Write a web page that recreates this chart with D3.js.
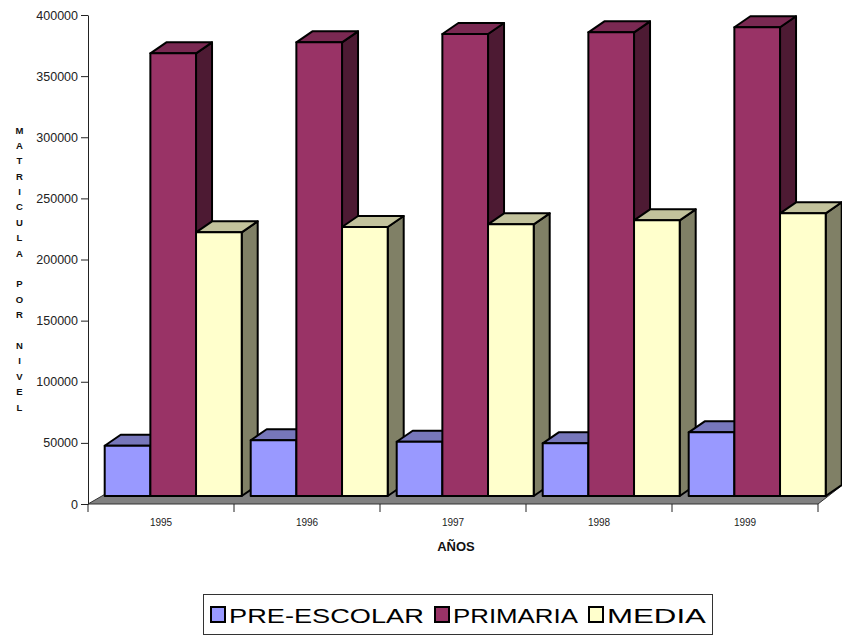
<!DOCTYPE html>
<html>
<head>
<meta charset="utf-8">
<script src="https://cdn.jsdelivr.net/npm/d3@7"></script>
<style>
  html, body { margin: 0; padding: 0; background: #fff; }
  svg { display: block; font-family: "Liberation Sans", Arial, sans-serif; }
</style>
</head>
<body>
<svg id="chart" width="842" height="637"></svg>
<script>
// ---- data ----
const years = ["1995", "1996", "1997", "1998", "1999"];
const seriesNames = ["PRE-ESCOLAR", "PRIMARIA", "MEDIA"];
const preEscolar = [41100, 45600, 44400, 43100, 52100];
const primaria   = [362100, 371100, 377900, 379300, 383400];
const media      = [215700, 220000, 222200, 225500, 231200];
const yTicks = [0, 50000, 100000, 150000, 200000, 250000, 300000, 350000, 400000];
const yTitle = "MATRICULA POR NIVEL";
const xTitle = "AÑOS";

(function () {
// ---- styles ----
const colors = {
  "PRE-ESCOLAR": { front: "#9999FF", top: "#7777BB", side: "#5C5C99" },
  "PRIMARIA":    { front: "#993366", top: "#7A2952", side: "#4D1A33" },
  "MEDIA":       { front: "#FFFFCC", top: "#C2C29C", side: "#808066" }
};
const seriesValues = [preEscolar, primaria, media];

const svg = d3.select("#chart");
const pLeft = 88, pRight = 818, pTop = 15, pBottom = 504;

const x = d3.scaleBand().domain(years).range([pLeft, pRight]).padding(0);
const y = d3.scaleLinear().domain([0, 400000]).range([pBottom, pTop]);
const s = d3.scaleBand().domain(seriesNames).range([0, 137]).padding(0);

// front-plane offset of the bars and bar depth (oblique projection)
const offX = 16.7, offY = -8;
const dX = 16, dY = -11;

// ---- floor ----
svg.append("polygon")
  .attr("points", [
    [pLeft, pBottom], [pRight, pBottom],
    [pRight + 31, pBottom - 24], [pLeft + 33, pBottom - 19]
  ].map(p => p.join(",")).join(" "))
  .attr("fill", "#808080")
  .attr("stroke", "#333")
  .attr("stroke-width", 1);

// ---- bars ----
const bars = [];
years.forEach((yr, i) => {
  seriesNames.forEach((name, j) => {
    bars.push({ year: yr, name, value: seriesValues[j][i] });
  });
});

const g = svg.append("g");
bars.forEach(d => {
  const x0 = x(d.year) + offX + s(d.name);
  const x1 = x0 + s.bandwidth();
  const yb = y(0) + offY;
  const yt = y(d.value) + offY;
  const c = colors[d.name];
  const bg = g.append("g")
    .attr("stroke", "#000").attr("stroke-width", 2).attr("stroke-linejoin", "round");
  bg.append("polygon")
    .attr("points", [[x1, yb], [x1 + dX, yb + dY], [x1 + dX, yt + dY], [x1, yt]].map(p => p.join(",")).join(" "))
    .attr("fill", c.side);
  bg.append("polygon")
    .attr("points", [[x0, yt], [x0 + dX, yt + dY], [x1 + dX, yt + dY], [x1, yt]].map(p => p.join(",")).join(" "))
    .attr("fill", c.top);
  bg.append("rect")
    .attr("x", x0).attr("y", yt)
    .attr("width", x1 - x0).attr("height", yb - yt)
    .attr("fill", c.front);
});

// ---- y axis ----
const yAxis = svg.append("g")
  .attr("transform", `translate(${pLeft},0)`)
  .call(d3.axisLeft(y).tickValues(yTicks).tickFormat(d3.format("d")).tickSize(7).tickPadding(3).tickSizeOuter(0));
yAxis.select(".domain").attr("stroke", "#222");
yAxis.selectAll(".tick line").attr("stroke", "#222");
yAxis.selectAll(".tick text")
  .attr("font-family", "Liberation Sans, Arial, sans-serif")
  .attr("font-size", 12.5).attr("fill", "#222");

// ---- x axis (ticks at category boundaries) ----
const bounds = years.map(yr => x(yr)).concat([pRight]);
svg.append("g").selectAll("line").data(bounds).join("line")
  .attr("x1", d => d).attr("x2", d => d)
  .attr("y1", pBottom).attr("y2", pBottom + 8)
  .attr("stroke", "#222").attr("stroke-width", 1);
svg.append("g").selectAll("text").data(years).join("text")
  .attr("x", d => x(d) + x.bandwidth() / 2)
  .attr("y", 526)
  .attr("text-anchor", "middle")
  .attr("font-size", 10).attr("fill", "#222")
  .text(d => d);

svg.append("text")
  .attr("x", (pLeft + pRight) / 2 + 3)
  .attr("y", 551)
  .attr("text-anchor", "middle")
  .attr("font-size", 13).attr("font-weight", "bold").attr("fill", "#111")
  .text(xTitle);

// ---- y title, stacked letters ----
const yTitleG = svg.append("g");
yTitle.split("").forEach((ch, i) => {
  yTitleG.append("text")
    .attr("x", 19.5)
    .attr("y", 133.5 + i * 15.39)
    .attr("text-anchor", "middle")
    .attr("font-size", 9.5).attr("font-weight", "bold").attr("fill", "#111")
    .text(ch);
});

// ---- legend ----
const legend = svg.append("g");
legend.append("rect")
  .attr("x", 203.5).attr("y", 594.5).attr("width", 509).attr("height", 40)
  .attr("fill", "#fff").attr("stroke", "#333").attr("stroke-width", 1);
const legendItems = [
  { name: "PRE-ESCOLAR", sx: 211, tx: 229, len: 195 },
  { name: "PRIMARIA", sx: 435, tx: 453, len: 125 },
  { name: "MEDIA", sx: 589, tx: 607, len: 99 }
];
legendItems.forEach(it => {
  legend.append("rect")
    .attr("x", it.sx).attr("y", 607).attr("width", 14).attr("height", 15)
    .attr("fill", colors[it.name].front).attr("stroke", "#000").attr("stroke-width", 2);
  const t = legend.append("text")
    .attr("x", 0).attr("y", 0)
    .attr("font-size", 21).attr("fill", "#000")
    .text(it.name);
  const natural = t.node().getComputedTextLength() || it.len;
  const f = it.len / natural;
  t.attr("transform", `translate(${it.tx},622.5) scale(${f},1)`);
});
})();
</script>
</body>
</html>
